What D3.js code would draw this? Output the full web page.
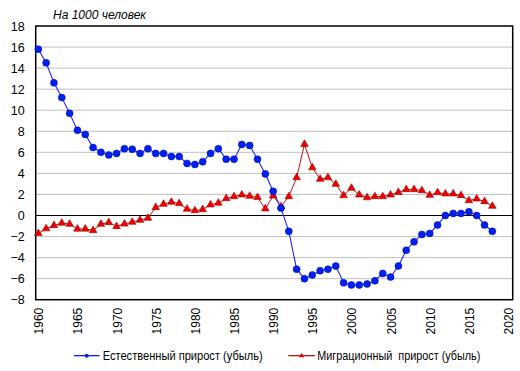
<!DOCTYPE html>
<html><head><meta charset="utf-8">
<script src="https://cdn.jsdelivr.net/npm/d3@7"></script>
<style>body{margin:0;background:#fff}svg{display:block;font-family:Arial,"Liberation Sans",sans-serif}</style>
</head><body><svg id="c" width="520" height="371"></svg>
<script>
const years = d3.range(1960, 2019);
const natural = [15.8,14.5,12.6,11.2,9.7,8.1,7.7,6.45,6.0,5.75,5.9,6.35,6.3,5.9,6.35,5.9,5.9,5.6,5.6,4.95,4.85,5.1,5.9,6.35,5.35,5.35,6.75,6.65,5.35,3.95,2.3,0.7,-1.5,-5.1,-6.0,-5.65,-5.25,-5.1,-4.8,-6.4,-6.6,-6.6,-6.5,-6.2,-5.5,-5.85,-4.8,-3.3,-2.5,-1.8,-1.7,-0.9,0.0,0.2,0.2,0.35,0.0,-0.9,-1.5];
const migration = [-1.7,-1.25,-0.95,-0.72,-0.82,-1.28,-1.28,-1.42,-0.82,-0.66,-1.04,-0.8,-0.63,-0.44,-0.25,0.76,1.08,1.27,1.14,0.61,0.47,0.57,1.02,1.18,1.61,1.8,1.96,1.84,1.72,0.64,1.87,0.85,1.8,3.6,6.77,4.55,3.45,3.6,2.98,1.9,2.6,1.96,1.7,1.8,1.8,1.96,2.2,2.47,2.47,2.37,1.93,2.18,2.06,2.06,1.9,1.42,1.58,1.33,0.89];
const yTicks = d3.range(-8, 19, 2);
const xTicks = d3.range(1960, 2021, 5);
const seriesNames = ["Естественный прирост (убыль)", "Миграционный  прирост (убыль)"];
const unitLabel = "На 1000 человек";

const svg = d3.select("#c");
const L = 35.7, R = 512.7, T = 26, B = 299.7;
const x = d3.scaleLinear().domain([1960, 2020]).range([38.3, 508]);
const y = d3.scaleLinear().domain([-8, 18]).range([B, T]);

// grid
svg.append("g").selectAll("line").data(yTicks.filter(v => v !== 0 && v !== -8 && v !== 18)).join("line")
  .attr("x1", L).attr("x2", R).attr("y1", d => y(d)).attr("y2", d => y(d))
  .attr("stroke", "#c0c0c0").attr("stroke-width", 1);
// zero line
svg.append("line").attr("x1", L).attr("x2", R).attr("y1", y(0)).attr("y2", y(0)).attr("stroke", "#000").attr("stroke-width", 1.2);
// frame
svg.append("rect").attr("x", L).attr("y", T).attr("width", R - L).attr("height", B - T)
  .attr("fill", "none").attr("stroke", "#000").attr("stroke-width", 1.5);

// y axis labels
const yAxis = d3.axisLeft(y).tickValues(yTicks).tickSize(0).tickPadding(11);
const gy = svg.append("g").attr("transform", `translate(${L},0)`).call(yAxis);
gy.select(".domain").remove();
gy.selectAll("text").attr("font-size", 12.5).attr("fill", "#000").attr("font-family", "Arial, 'Liberation Sans', sans-serif");

// x axis labels rotated
const xAxis = d3.axisBottom(x).tickValues(xTicks).tickFormat(d3.format("d")).tickSize(0);
const gx = svg.append("g").attr("transform", `translate(0,${B})`).call(xAxis);
gx.select(".domain").remove();
gx.selectAll("text").attr("font-size", 12).attr("fill", "#000")
  .attr("font-family", "Arial, 'Liberation Sans', sans-serif")
  .attr("text-anchor", "end").attr("dy", null)
  .attr("transform", "rotate(-90)").attr("x", -8).attr("y", 4.5);

// lines
const line = d3.line().x((d, i) => x(years[i])).y(d => y(d));
const tri = d3.symbol().type(d3.symbolTriangle).size(25);

svg.append("path").datum(migration).attr("d", line).attr("fill", "none").attr("stroke", "#cc1111").attr("stroke-width", 1);
svg.append("path").datum(natural).attr("d", line).attr("fill", "none").attr("stroke", "#2222ff").attr("stroke-width", 1.1);

svg.append("g").selectAll("path").data(migration).join("path")
  .attr("d", tri).attr("transform", (d, i) => `translate(${x(years[i])},${y(d)})`)
  .attr("fill", "#ee0000").attr("stroke", "#a00000").attr("stroke-width", 0.6);
svg.append("g").selectAll("circle").data(natural).join("circle")
  .attr("cx", (d, i) => x(years[i])).attr("cy", d => y(d)).attr("r", 3.5)
  .attr("fill", "#0022ee").attr("stroke", "#0000aa").attr("stroke-width", 0.5);

// title
svg.append("text").attr("x", 53).attr("y", 18.5).attr("font-size", 12).attr("font-style", "italic")
  .attr("fill", "#000").text(unitLabel);

// legend
const ly = 355.7;
const leg = [{x0: 74, x1: 99.5, tx: 102.7, w: 160, col: "#0000ff", name: seriesNames[0], m: "c"},
             {x0: 288.3, x1: 315, tx: 317.3, w: 163, col: "#b00000", name: seriesNames[1], m: "t"}];
leg.forEach(l => {
  svg.append("line").attr("x1", l.x0).attr("x2", l.x1).attr("y1", ly).attr("y2", ly).attr("stroke", l.col).attr("stroke-width", 1.2);
  const mx = (l.x0 + l.x1) / 2;
  if (l.m === "c") svg.append("circle").attr("cx", mx).attr("cy", ly).attr("r", 2).attr("fill", "#0022ee");
  else svg.append("path").attr("d", d3.symbol().type(d3.symbolTriangle).size(12)).attr("transform", `translate(${mx},${ly})`).attr("fill", "#ee0000");
  svg.append("text").attr("x", l.tx).attr("y", ly + 4.3).attr("font-size", 12).attr("fill", "#000")
    .attr("textLength", l.w).attr("lengthAdjust", "spacingAndGlyphs")
    .style("white-space", "pre").text(l.name);
});
</script></body></html>
